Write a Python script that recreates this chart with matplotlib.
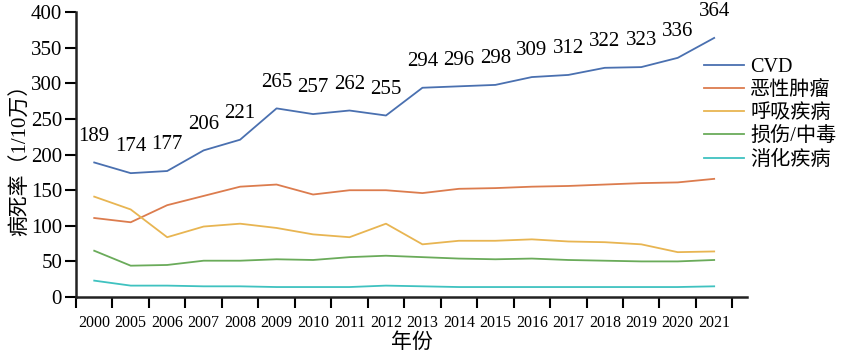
import matplotlib
matplotlib.use("Agg")
import matplotlib.pyplot as plt
import numpy as np

years = ["2000", "2005", "2006", "2007", "2008", "2009", "2010", "2011", "2012",
         "2013", "2014", "2015", "2016", "2017", "2018", "2019", "2020", "2021"]
cvd = [189, 174, 177, 206, 221, 265, 257, 262, 255, 294, 296, 298, 309, 312, 322, 323, 336, 364]
tumor = [111, 105, 129, 142, 155, 158, 144, 150, 150, 146, 152, 153, 155, 156, 158, 160, 161, 166]
resp = [141, 123, 84, 99, 103, 97, 88, 84, 103, 74, 79, 79, 81, 78, 77, 74, 63, 64]
injury = [65, 44, 45, 51, 51, 53, 52, 56, 58, 56, 54, 53, 54, 52, 51, 50, 50, 52]
digest = [23, 16, 16, 15, 15, 14, 14, 14, 16, 15, 14, 14, 14, 14, 14, 14, 14, 15]
series_names = ["CVD", "恶性肿瘤", "呼吸疾病", "损伤/中毒", "消化疾病"]
colors = ["#4a70b0", "#dc7c4e", "#e8b552", "#6aab5a", "#3fc2c0"]

plt.rcParams['font.family'] = ['Liberation Serif', 'Noto Sans CJK SC']

fig = plt.figure(figsize=(8.46, 3.54), dpi=100)
ax = fig.add_axes([76/846, 1-297/354, (747-76)/846, (297-12.3)/354])

x = np.arange(len(years))
for vals, c, name in zip([cvd, tumor, resp, injury, digest], colors, series_names):
    ax.plot(x, vals, color=c, lw=1.3, label=name)

for xi, v in zip(x, cvd):
    ax.annotate(str(v), (xi, v), xytext=(0, 12), textcoords='offset points',
                ha='center', va='bottom', fontsize=15)

ax.set_xlim(-0.5, 17.9)
ax.set_ylim(0, 400)
ax.set_yticks(np.arange(0, 401, 50))
ax.tick_params(axis='y', labelsize=15, length=8, width=1.5, pad=2)
ax.set_xticks(x)
ax.set_xticklabels(years, fontsize=11.5)
ax.tick_params(axis='x', which='major', length=0, pad=13)
ax.set_xticks(np.arange(-0.5, 18, 1.0), minor=True)
ax.tick_params(axis='x', which='minor', length=8, width=1.5)
for s in ['top', 'right']:
    ax.spines[s].set_visible(False)
for s in ['left', 'bottom']:
    ax.spines[s].set_linewidth(1.8)
    ax.spines[s].set_color('#222222')

ax.set_ylabel("病死率（1/10万）", fontsize=15, labelpad=0)
ax.set_xlabel("年份", fontsize=15, labelpad=2)

fig.legend(loc='upper left', bbox_to_anchor=(704/846, 1-58/354), frameon=False,
           fontsize=14.5, handlelength=2.0, handletextpad=0.3, labelspacing=0.2,
           borderpad=0, borderaxespad=0)

fig.savefig("out.png", dpi=100)
